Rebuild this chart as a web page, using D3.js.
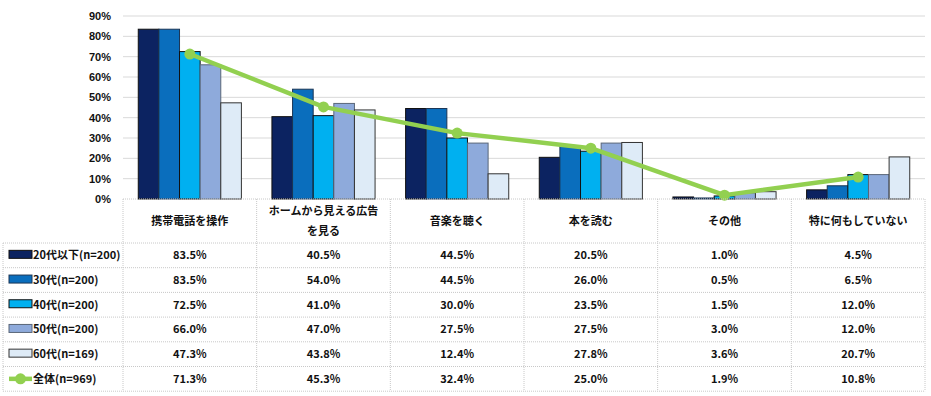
<!DOCTYPE html>
<html>
<head>
<meta charset="utf-8">
<script src="https://cdn.jsdelivr.net/npm/d3@7"></script>
<style>
  html, body { margin: 0; padding: 0; background: #fff; }
  svg { display: block; font-family: "Noto Sans CJK JP", "Noto Sans", sans-serif; }
</style>
</head>
<body>
<div id="chart"></div>
<script>
// categories and series
const categories = ['携帯電話を操作', 'ホームから見える広告を見る', '音楽を聴く', '本を読む', 'その他', '特に何もしていない'];
const categoryLines = [['携帯電話を操作'], ['ホームから見える広告', 'を見る'], ['音楽を聴く'], ['本を読む'], ['その他'], ['特に何もしていない']];
const seriesNames = ['20代以下(n=200)', '30代(n=200)', '40代(n=200)', '50代(n=200)', '60代(n=169)'];
const age20 = [83.5, 40.5, 44.5, 20.5, 1.0, 4.5];
const age30 = [83.5, 54.0, 44.5, 26.0, 0.5, 6.5];
const age40 = [72.5, 41.0, 30.0, 23.5, 1.5, 12.0];
const age50 = [66.0, 47.0, 27.5, 27.5, 3.0, 12.0];
const age60 = [47.3, 43.8, 12.4, 27.8, 3.6, 20.7];
const totalName = '全体(n=969)';
const total = [71.3, 45.3, 32.4, 25.0, 1.9, 10.8];
const yTicks = [0, 10, 20, 30, 40, 50, 60, 70, 80, 90];

const barSeries = [age20, age30, age40, age50, age60];
const colors = ['#0c2361', '#0a6ebd', '#00b0f0', '#8eaadb', '#deebf7'];
const strokes = ['#111', '#1b3555', '#111', '#5a6678', '#333'];
const lineColor = '#92d050';

const W = 931, H = 396;
const plotLeft = 123, plotRight = 925, plotTop = 16, plotBottom = 199;
const tableLeft = 3;
const headerBottom = 243;
const rowH = 24.7;

const svg = d3.select('#chart').append('svg').attr('width', W).attr('height', H);

const x = d3.scaleBand().domain(categories).range([plotLeft, plotRight]).paddingInner(0).paddingOuter(0);
const xs = d3.scaleBand().domain(d3.range(5)).range([0, x.bandwidth()]).paddingOuter(0.74).paddingInner(0);
const y = d3.scaleLinear().domain([0, 90]).range([plotBottom, plotTop]);

// gridlines
svg.append('g')
  .selectAll('line')
  .data(yTicks.slice(1))
  .enter()
  .append('line')
  .attr('x1', plotLeft).attr('x2', plotRight)
  .attr('y1', d => y(d)).attr('y2', d => y(d))
  .attr('stroke', '#d9d9d9').attr('stroke-width', 1);

// y axis labels
const yAxis = svg.append('g')
  .attr('transform', `translate(${plotLeft - 12},0)`)
  .call(d3.axisLeft(y).tickValues(yTicks).tickFormat(d => d + '%').tickSize(0).tickPadding(0));
yAxis.select('.domain').remove();
yAxis.selectAll('text')
  .attr('font-size', 11).attr('font-weight', 'bold').attr('fill', '#111')
  .attr('font-family', '"Liberation Sans", Arial, sans-serif');

// bars
barSeries.forEach((vals, si) => {
  svg.append('g')
    .selectAll('rect')
    .data(vals)
    .enter()
    .append('rect')
    .attr('x', (d, i) => x(categories[i]) + xs(si))
    .attr('y', d => y(d))
    .attr('width', xs.bandwidth())
    .attr('height', d => y(0) - y(d))
    .attr('fill', colors[si])
    .attr('stroke', strokes[si])
    .attr('stroke-width', 1);
});

// total line
const cx = i => x(categories[i]) + x.bandwidth() / 2;
svg.append('path')
  .datum(total)
  .attr('fill', 'none')
  .attr('stroke', lineColor)
  .attr('stroke-width', 4.5)
  .attr('stroke-linejoin', 'round')
  .attr('d', d3.line().x((d, i) => cx(i)).y(d => y(d)));
svg.append('g')
  .selectAll('circle')
  .data(total)
  .enter()
  .append('circle')
  .attr('cx', (d, i) => cx(i))
  .attr('cy', d => y(d))
  .attr('r', 5.5)
  .attr('fill', lineColor);

// table grid
const grid = svg.append('g').attr('stroke', '#c8c8c8').attr('stroke-width', 1).attr('stroke-dasharray', '1,1');
const rowCount = 6;
const tableBottom = headerBottom + rowH * rowCount;
d3.range(rowCount + 1).forEach(r => {
  const yy = headerBottom + r * rowH;
  grid.append('line').attr('x1', tableLeft).attr('x2', plotRight).attr('y1', yy).attr('y2', yy);
});
grid.append('line').attr('x1', plotLeft).attr('x2', plotRight).attr('y1', plotBottom).attr('y2', plotBottom);
grid.append('line').attr('x1', tableLeft).attr('x2', tableLeft).attr('y1', headerBottom).attr('y2', tableBottom);
categories.concat(['end']).forEach((c, i) => {
  const xx = i < categories.length ? x(c) : plotRight;
  grid.append('line').attr('x1', xx).attr('x2', xx).attr('y1', plotBottom).attr('y2', tableBottom);
});

// header labels
categoryLines.forEach((lines, i) => {
  const t = svg.append('text')
    .attr('x', cx(i))
    .attr('text-anchor', 'middle')
    .attr('font-size', 11)
    .attr('font-weight', 'bold')
    .attr('fill', '#111');
  const startY = lines.length === 1 ? 225 : 215;
  lines.forEach((ln, k) => {
    t.append('tspan').attr('x', cx(i)).attr('y', startY + k * 20).text(ln);
  });
});

// table rows
const rows = barSeries.map((vals, si) => ({ name: seriesNames[si], vals, si }))
  .concat([{ name: totalName, vals: total, si: -1 }]);

rows.forEach((row, r) => {
  const yc = headerBottom + r * rowH + rowH / 2;
  if (row.si >= 0) {
    svg.append('rect')
      .attr('x', 9).attr('y', yc - 5)
      .attr('width', 23).attr('height', 8)
      .attr('fill', colors[row.si])
      .attr('stroke', strokes[row.si]).attr('stroke-width', 1);
  } else {
    svg.append('line')
      .attr('x1', 9).attr('x2', 32).attr('y1', yc).attr('y2', yc)
      .attr('stroke', lineColor).attr('stroke-width', 4.5);
    svg.append('circle').attr('cx', 20.5).attr('cy', yc).attr('r', 5.5).attr('fill', lineColor);
  }
  svg.append('text')
    .attr('x', 33).attr('y', yc + 4)
    .attr('font-size', 11).attr('font-weight', 'bold').attr('fill', '#111')
    .text(row.name);
  svg.append('g')
    .selectAll('text')
    .data(row.vals)
    .enter()
    .append('text')
    .attr('x', (d, i) => cx(i))
    .attr('y', yc + 4)
    .attr('text-anchor', 'middle')
    .attr('font-size', 11).attr('font-weight', 'bold').attr('fill', '#111')
    .text(d => d.toFixed(1) + '%');
});
</script>
</body>
</html>
